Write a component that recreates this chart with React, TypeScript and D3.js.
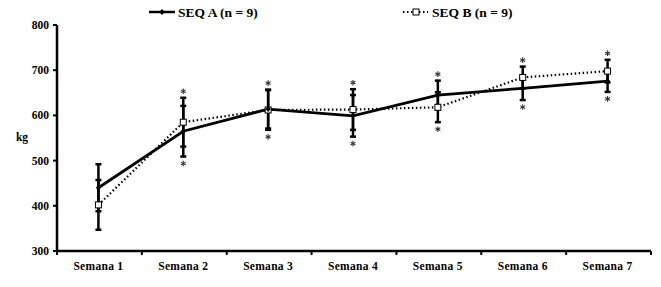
import React from "react";
import * as d3 from "d3";

const categories = ["Semana 1", "Semana 2", "Semana 3", "Semana 4", "Semana 5", "Semana 6", "Semana 7"];
const seqA = [440, 565, 614, 599, 645, 660, 676];
const seqAErr = [52, 56, 43, 46, 32, 26, 24];
const seqB = [402, 585, 612, 613, 618, 684, 698];
const seqBErr = [55, 54, 44, 45, 33, 24, 25];
const significant = [false, true, true, true, true, true, true];
const yTicks = [300, 400, 500, 600, 700, 800];
const legendA = "SEQ A (n = 9)";
const legendB = "SEQ B (n = 9)";

const W = 661;
const H = 287;
const left = 57;
const right = 651;
const top = 25;
const bottom = 251;
const font = "'Liberation Serif', 'Times New Roman', serif";

function Star({ cx, cy }: { cx: number; cy: number }) {
  const r = 2.8;
  const arms = [90, 30, -30].map((a) => (a * Math.PI) / 180);
  return (
    <g stroke="#333" strokeWidth={1.1}>
      {arms.map((a, i) => (
        <line key={i} x1={cx - r * Math.cos(a)} y1={cy - r * Math.sin(a)} x2={cx + r * Math.cos(a)} y2={cy + r * Math.sin(a)} />
      ))}
    </g>
  );
}

export default function App() {
  const x = d3.scalePoint<string>().domain(categories).range([left, right]).padding(0.5);
  const y = d3.scaleLinear().domain([300, 800]).range([bottom, top]);
  const band = (right - left) / categories.length;
  const px = (i: number) => (x(categories[i]) as number) - 1;
  const lineGen = d3
    .line<number>()
    .x((_, i) => px(i))
    .y((v) => y(v));

  const errBars = (vals: number[], errs: number[], key: string) =>
    vals.map((v, i) => {
      const cx = px(i);
      const t = y(v + errs[i]);
      const b = y(v - errs[i]);
      return (
        <g key={key + i} stroke="#000" strokeWidth={2.5}>
          <line x1={cx} x2={cx} y1={t} y2={b} />
          <line x1={cx - 3} x2={cx + 3} y1={t} y2={t} />
          <line x1={cx - 3} x2={cx + 3} y1={b} y2={b} />
        </g>
      );
    });

  return (
    <svg width={W} height={H} style={{ position: "absolute", left: 0, top: 0, background: "#fff" }}>
      <rect width={W} height={H} fill="#fff" />
      {/* y axis */}
      <line x1={left} x2={left} y1={top} y2={bottom} stroke="#000" strokeWidth={2.5} />
      {yTicks.map((t) => (
        <g key={t}>
          <line x1={left - 4} x2={left} y1={y(t)} y2={y(t)} stroke="#000" strokeWidth={2} />
          <text x={left - 8} y={y(t)} dy="0.35em" textAnchor="end" fontFamily={font} fontWeight="bold" fontSize={11.5} fill="#000">
            {t}
          </text>
        </g>
      ))}
      <text x={22} y={141} textAnchor="middle" fontFamily={font} fontWeight="bold" fontSize={11.5} fill="#000">
        kg
      </text>
      {/* x axis */}
      <line x1={left} x2={right} y1={bottom} y2={bottom} stroke="#000" strokeWidth={2.5} />
      {d3.range(categories.length + 1).map((i) => (
        <line key={i} x1={left + i * band} x2={left + i * band} y1={bottom} y2={bottom + 4} stroke="#000" strokeWidth={2} />
      ))}
      {categories.map((c, i) => (
        <text key={c} x={px(i)} y={bottom + 19} textAnchor="middle" fontFamily={font} fontWeight="bold" fontSize={11.5} letterSpacing={0.3} fill="#000">
          {c}
        </text>
      ))}
      {/* error bars */}
      {errBars(seqA, seqAErr, "a")}
      {errBars(seqB, seqBErr, "b")}
      {/* stars */}
      {categories.map((c, i) => {
        if (!significant[i]) return null;
        const cx = px(i);
        const t = y(Math.max(seqA[i] + seqAErr[i], seqB[i] + seqBErr[i]));
        const b = y(Math.min(seqA[i] - seqAErr[i], seqB[i] - seqBErr[i]));
        return (
          <g key={"s" + c}>
            <Star cx={cx} cy={t - 6.5} />
            <Star cx={cx} cy={b + 7} />
          </g>
        );
      })}
      {/* lines */}
      <path d={lineGen(seqB) || ""} fill="none" stroke="#000" strokeWidth={2.2} strokeDasharray="1.5,2.5" strokeLinecap="butt" />
      <path d={lineGen(seqA) || ""} fill="none" stroke="#000" strokeWidth={2.8} />
      {/* markers */}
      {seqB.map((v, i) => (
        <rect key={"mb" + i} x={px(i) - 3} y={y(v) - 3} width={6} height={6} fill="#fff" stroke="#000" strokeWidth={1} />
      ))}
      {seqA.map((v, i) => {
        const cx = px(i);
        const cy = y(v);
        return <path key={"ma" + i} d={`M${cx},${cy - 3}L${cx + 2.6},${cy}L${cx},${cy + 3}L${cx - 2.6},${cy}Z`} fill="#000" />;
      })}
      {/* legend */}
      <line x1={149} x2={175} y1={12} y2={12} stroke="#000" strokeWidth={2.5} />
      <path d="M162,9L164.6,12L162,15L159.4,12Z" fill="#000" />
      <text x={178} y={12} dy="0.35em" fontFamily={font} fontWeight="bold" fontSize={13.5} fill="#000">
        {legendA}
      </text>
      <line x1={403} x2={428} y1={12} y2={12} stroke="#000" strokeWidth={2.2} strokeDasharray="1.5,2.5" />
      <rect x={413} y={9} width={6} height={6} fill="#fff" stroke="#000" strokeWidth={1} />
      <text x={432} y={12} dy="0.35em" fontFamily={font} fontWeight="bold" fontSize={13.5} fill="#000">
        {legendB}
      </text>
    </svg>
  );
}
